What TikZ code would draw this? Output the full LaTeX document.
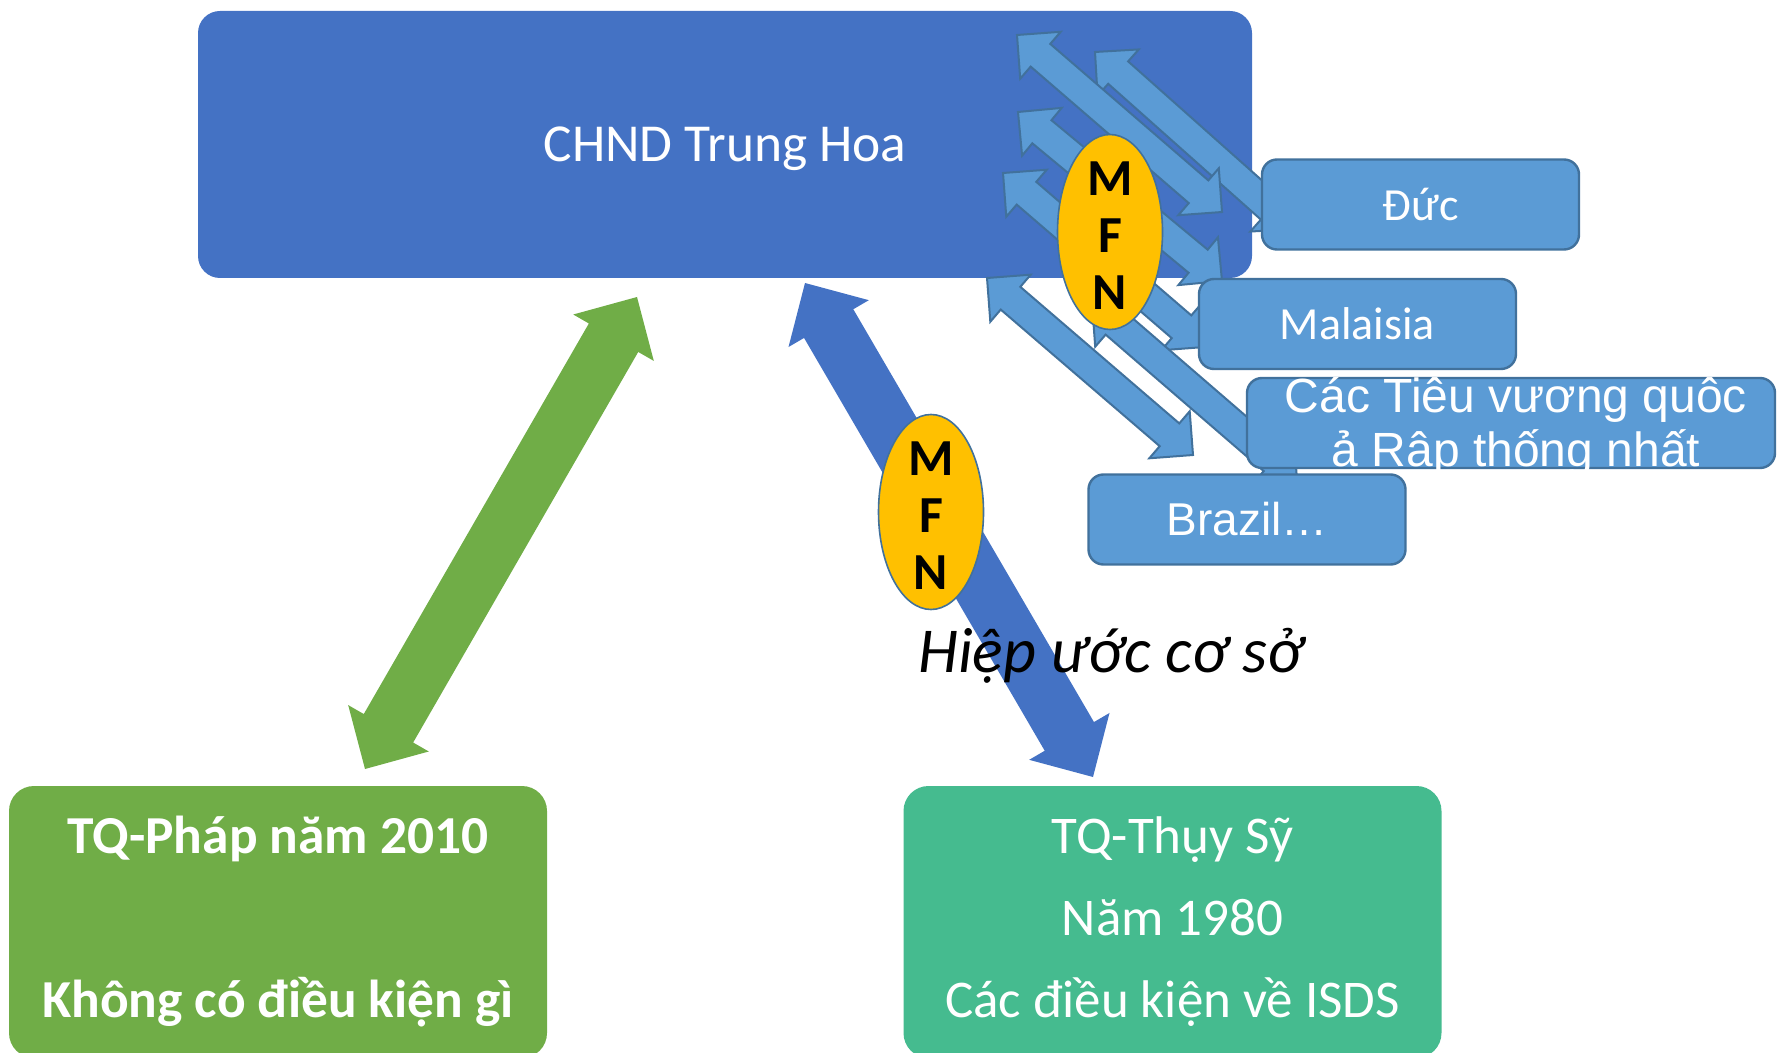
\documentclass[tikz,border=0pt]{standalone}
\usepackage{fontspec}
\setmainfont{Carlito}
\newfontfamily\arialfont{Liberation Sans}
\usetikzlibrary{calc,shapes.geometric}

\definecolor{chinablue}{HTML}{4472C4}
\definecolor{partnerblue}{HTML}{5B9BD5}
\definecolor{partneredge}{HTML}{41719C}
\definecolor{mfngold}{HTML}{FFC000}
\definecolor{francegreen}{HTML}{70AD47}
\definecolor{swissteal}{RGB}{69,187,143}

% double-headed block arrow between two tips:
% #1 style, #2/#3 tips, #4 half shaft, #5 half head, #6 head length
\newcommand{\fatarrow}[6]{%
  \filldraw[#1] (#2)
    -- ($(#2)!#6!(#3)!#5!90:(#3)$)
    -- ($(#2)!#6!(#3)!#4!90:(#3)$)
    -- ($(#3)!#6!(#2)!#4!-90:(#2)$)
    -- ($(#3)!#6!(#2)!#5!-90:(#2)$)
    -- (#3)
    -- ($(#3)!#6!(#2)!#5!90:(#2)$)
    -- ($(#3)!#6!(#2)!#4!90:(#2)$)
    -- ($(#2)!#6!(#3)!#4!-90:(#3)$)
    -- ($(#2)!#6!(#3)!#5!-90:(#3)$)
    -- cycle;}

\begin{document}
\begin{tikzpicture}[x=0.5pt,y=-0.5pt,
  chinabox/.style={fill=chinablue, rounded corners=11pt, minimum width=527pt,
    minimum height=133.5pt, text=white, font=\fontsize{26.7}{31}\selectfont},
  partner/.style={fill=partnerblue, draw=partneredge, line width=1.2pt,
    rounded corners=7.5pt, minimum width=158.5pt, minimum height=45pt,
    inner sep=0pt, text=white, font=\fontsize{23}{27}\selectfont},
  uaetext/.style={anchor=base, inner sep=0pt, text=white,
    font=\arialfont\fontsize{24}{28}\selectfont},
  treatybox/.style={rounded corners=12.5pt, minimum width=269pt,
    minimum height=136pt, text=white, align=center},
  mfnbubble/.style={ellipse, fill=mfngold, draw=partneredge, line width=0.8pt,
    minimum width=52.5pt, minimum height=97.5pt, inner sep=0pt},
  mfnletters/.style={align=center, inner sep=0pt, yshift=-2pt,
    font=\bfseries\fontsize{26}{28.5}\selectfont},
  lightarrow/.style={fill=partnerblue, draw=partneredge, line width=1pt},
  bigarrow/.style={draw=none}]
  \useasboundingbox (0,0) rectangle (1777,1053);

  \node[chinabox] (china) at (725,144.5) {};
  \node[text=white, font=\fontsize{26.7}{31}\selectfont] (china name) at (725,149) {CHND Trung Hoa};

  % treaty arrows below the China box
  \coordinate (fr top) at (637,297);
  \coordinate (fr bottom) at (365,769);
  \coordinate (ch top) at (805,283);
  \coordinate (ch bottom) at (1093,777);
  \fatarrow{bigarrow, fill=francegreen}{fr top}{fr bottom}{14.25pt}{23.25pt}{23.5pt}
  \fatarrow{bigarrow, fill=chinablue}{ch top}{ch bottom}{14.25pt}{23.25pt}{23.5pt}

  % MFN fan of small arrows
  \coordinate (a1) at (1017,35);   \coordinate (a2) at (1222,212);
  \coordinate (b1) at (1095,52);   \coordinate (b2) at (1294,229);
  \coordinate (c1) at (1018,112);  \coordinate (c2) at (1222,281);
  \coordinate (d1) at (1003,173);  \coordinate (d2) at (1205,347);
  \coordinate (e1) at (987,278);   \coordinate (e2) at (1193,455);
  \coordinate (f1) at (1092,303);  \coordinate (f2) at (1297,480);
  \foreach \p in {b,a,c,d,e,f}{
    \fatarrow{lightarrow}{\p1}{\p2}{7.5pt}{15.5pt}{15.5pt}
  }

  \node[mfnbubble] (mfn top) at (1110,232) {};
  \node[mfnletters] (mfn top text) at (mfn top) {M\\F\\N};

  \node[partner] (germany) at (1420.5,204.5) {Đức};
  \node[partner] (malaysia) at (1357.5,324) {Malaisia};
  \node[partner, minimum width=264pt] (uae) at (1511,423) {};
  \begin{scope}
    \clip[rounded corners=7.5pt] (uae.south west) rectangle (uae.north east);
    \node[uaetext] (uae line1) at ([xshift=2.5pt,yshift=-18pt]uae.north) {Các Tiêu vương quôc};
    \node[uaetext] (uae line2) at ([xshift=2.5pt,yshift=-45pt]uae.north) {ả Râp thống nhất};
  \end{scope}
  \node[partner, font=\arialfont\fontsize{23}{27}\selectfont] (brazil) at (1247,519.5) {Brazil…};

  \node[treatybox, fill=francegreen, font=\bfseries\fontsize{26.7}{41}\selectfont]
    (france) at (278,922) {TQ-Pháp năm 2010\\[41pt]Không có điều kiện gì};
  \node[treatybox, fill=swissteal, font=\fontsize{26.5}{41}\selectfont]
    (swiss) at (1172.5,922) {TQ-Thụy Sỹ\\Năm 1980\\Các điều kiện về ISDS};

  \node[mfnbubble] (mfn low) at (931,512) {};
  \node[mfnletters] (mfn low text) at (mfn low) {M\\F\\N};
  \node[anchor=base, font=\itshape\fontsize{32}{38}\selectfont] (treaty) at (1111,672) {Hiệp ước cơ sở};
\end{tikzpicture}
\end{document}
